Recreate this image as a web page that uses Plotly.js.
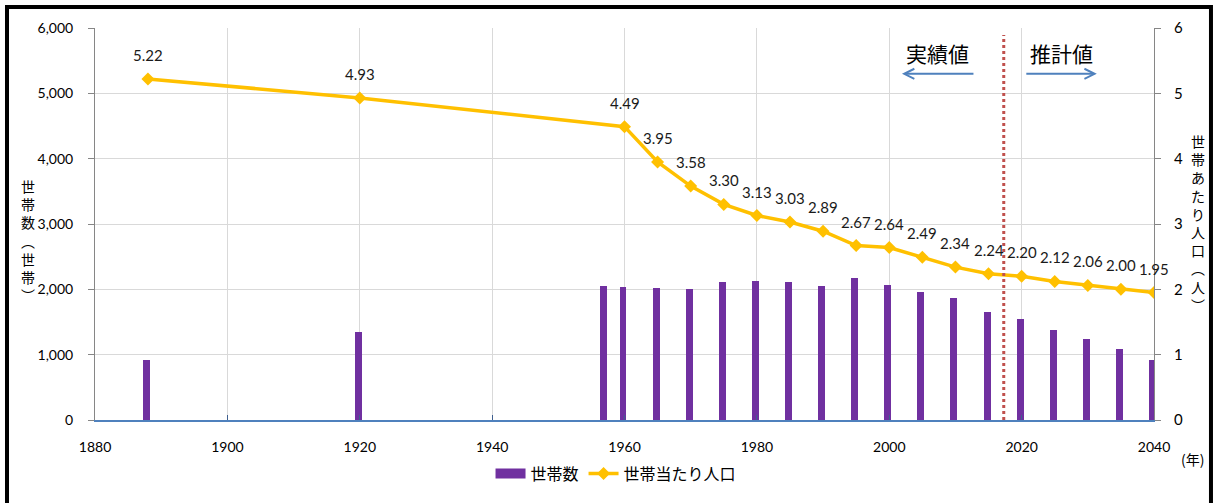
<!DOCTYPE html>
<html>
<head>
<meta charset="utf-8">
<script src="https://cdn.plot.ly/plotly-3.0.1.min.js"></script>
<style>
  html, body { margin: 0; padding: 0; background: #fff; }
  #chart { width: 1216px; height: 503px; }
</style>
</head>
<body>
<div id="chart"></div>
<script>
// ---- data ----
var barYears = [1888, 1920, 1957, 1960, 1965, 1970, 1975, 1980, 1985, 1990, 1995, 2000, 2005, 2010, 2015, 2020, 2025, 2030, 2035, 2040];
var barValues = [920, 1340, 2050, 2040, 2015, 2000, 2105, 2120, 2105, 2050, 2180, 2070, 1960, 1875, 1655, 1550, 1385, 1245, 1080, 920];
var lineYears = [1888, 1920, 1960, 1965, 1970, 1975, 1980, 1985, 1990, 1995, 2000, 2005, 2010, 2015, 2020, 2025, 2030, 2035, 2040];
var lineValues = [5.22, 4.93, 4.49, 3.95, 3.58, 3.30, 3.13, 3.03, 2.89, 2.67, 2.64, 2.49, 2.34, 2.24, 2.20, 2.12, 2.06, 2.00, 1.95];
var seriesNames = ['世帯数', '世帯当たり人口'];
var leftTitle = ['世', '帯', '数', '︵', '世', '帯', '︶'];
var rightTitle = ['世', '帯', 'あ', 'た', 'り', '人', '口', '︵', '人', '︶'];
var actualLabel = '実績値';
var forecastLabel = '推計値';
var yearUnit = '(年)';

var NUM_FONT = 'Lato, "Noto Sans CJK JP", sans-serif';
var CJK_FONT = '"Noto Sans CJK JP", sans-serif';
var BAR_COLOR = '#7030A0';
var LINE_COLOR = '#FFC000';

var traces = [
  {
    type: 'bar', name: seriesNames[0], x: barYears, y: barValues,
    width: 1.05, offset: -0.75, marker: { color: BAR_COLOR }, yaxis: 'y',
    showlegend: false
  },
  // legend entry for the bar series (wide swatch like the original)
  {
    type: 'scatter', mode: 'lines', name: seriesNames[0], x: [null], y: [null],
    line: { color: BAR_COLOR, width: 10 }, yaxis: 'y', showlegend: true
  },
  {
    type: 'scatter', mode: 'lines+markers', name: seriesNames[1],
    x: lineYears, y: lineValues, yaxis: 'y2',
    line: { color: LINE_COLOR, width: 3.5 },
    marker: { symbol: 'diamond', size: 10, color: LINE_COLOR }
  }
];

var annotations = lineValues.map(function (v, i) {
  return {
    x: lineYears[i], y: v, xref: 'x', yref: 'y2', text: v.toFixed(2),
    xanchor: 'center', yanchor: 'middle',
    showarrow: false, yshift: 24, font: { family: NUM_FONT, size: 15, color: '#1a1a1a' }
  };
});

annotations.push(
  { xref: 'paper', yref: 'paper', x: -0.0633, y: 0.457, xanchor: 'center', yanchor: 'middle',
    text: leftTitle.join('<br>'),
    showarrow: false, font: { family: CJK_FONT, size: 14, color: '#000' } },
  { xref: 'paper', yref: 'paper', x: 1.0416, y: 0.5025, xanchor: 'center', yanchor: 'middle',
    text: rightTitle.join('<br>'),
    showarrow: false, font: { family: CJK_FONT, size: 14, color: '#000' } },
  { xref: 'paper', yref: 'paper', x: 0.796, y: 0.9365, xanchor: 'center', yanchor: 'middle',
    text: actualLabel,
    showarrow: false, font: { family: CJK_FONT, size: 21, color: '#000' } },
  { xref: 'paper', yref: 'paper', x: 0.913, y: 0.9365, xanchor: 'center', yanchor: 'middle',
    text: forecastLabel,
    showarrow: false, font: { family: CJK_FONT, size: 21, color: '#000' } },
  { xref: 'paper', yref: 'paper', x: 0.762, y: 0.883, ax: 73, ay: 0, text: '',
    showarrow: true, arrowhead: 5, arrowsize: 1, arrowwidth: 2, arrowcolor: '#4F81BD' },
  { xref: 'paper', yref: 'paper', x: 0.946, y: 0.883, ax: -72, ay: 0, text: '',
    showarrow: true, arrowhead: 5, arrowsize: 1, arrowwidth: 2, arrowcolor: '#4F81BD' },
  { xref: 'paper', yref: 'paper', x: 1.0368, y: -0.099, xanchor: 'center', yanchor: 'middle',
    text: yearUnit,
    showarrow: false, font: { family: CJK_FONT, size: 14, color: '#000' } }
);

var layout = {
  width: 1216, height: 503,
  margin: { l: 95, r: 62, t: 28, b: 81 },
  paper_bgcolor: '#fff', plot_bgcolor: '#fff',
  font: { family: NUM_FONT, size: 14, color: '#000' },
  bargap: 0,
  xaxis: {
    range: [1880, 2040], dtick: 20, tick0: 1880,
    showgrid: true, gridcolor: '#D9D9D9', gridwidth: 1,
    showline: true, linecolor: '#4F81BD', linewidth: 1.5,
    ticks: 'inside', ticklen: 5, tickcolor: '#3F5F8F',
    ticklabelstandoff: 14,
    zeroline: false, tickfont: { family: NUM_FONT, size: 14, color: '#000' }
  },
  yaxis: {
    range: [0, 6000], dtick: 1000, tickformat: ',',
    showgrid: true, gridcolor: '#D9D9D9', gridwidth: 1,
    showline: true, linecolor: '#868686', linewidth: 1,
    ticks: 'outside', ticklen: 6, tickcolor: '#868686',
    ticklabelstandoff: 12,
    zeroline: false, tickfont: { family: NUM_FONT, size: 14, color: '#000' }
  },
  yaxis2: {
    overlaying: 'y', side: 'right', range: [0, 6], dtick: 1,
    showgrid: false, showline: true, linecolor: '#868686', linewidth: 1,
    ticks: 'outside', ticklen: 6, tickcolor: '#868686',
    ticklabelstandoff: 10,
    zeroline: false, tickfont: { family: NUM_FONT, size: 15, color: '#000' }
  },
  showlegend: true,
  legend: {
    orientation: 'h', x: 0.492, xanchor: 'center', y: -0.137, yanchor: 'middle',
    font: { family: CJK_FONT, size: 16, color: '#000' },
    bgcolor: 'rgba(0,0,0,0)', traceorder: 'normal'
  },
  shapes: [
    { type: 'line', xref: 'x', yref: 'paper', x0: 2017.3, x1: 2017.3, y0: 0, y1: 0.982,
      line: { color: '#C0504D', width: 3, dash: 'dot' } },
    { type: 'rect', xref: 'paper', yref: 'paper', x0: -0.0831, x1: 1.0538, y0: -0.25, y1: 1.0533,
      line: { color: '#000', width: 4 }, fillcolor: 'rgba(0,0,0,0)' }
  ],
  annotations: annotations
};

Plotly.newPlot('chart', traces, layout, { displayModeBar: false, staticPlot: true });
</script>
</body>
</html>
